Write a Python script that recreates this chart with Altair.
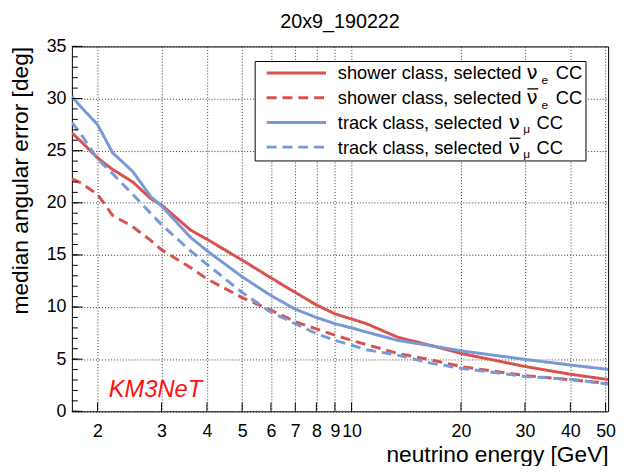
import altair as alt
import pandas as pd

# ---- data ----
energy = [1.7, 1.8, 2.0, 2.2, 2.5, 2.8, 3.0, 3.6, 4.0, 5.0, 6.0, 7.0, 8.0, 9.0, 10.0, 11.0,
          13.4, 16.6, 20.0, 30.0, 40.0, 50.8]
shower_nue = [26.7, 25.9, 24.3, 23.2, 22.0, 20.4, 19.8, 17.4, 16.5, 14.5, 12.8, 11.4, 10.2, 9.35,
              8.85, 8.4, 7.1, 6.3, 5.55, 4.3, 3.55, 3.05]
shower_anue = [22.3, 21.9, 20.8, 18.8, 17.7, 16.4, 15.5, 13.8, 12.7, 10.9, 9.7, 8.6, 7.9, 7.3,
               6.8, 6.4, 5.55, 4.92, 4.29, 3.43, 3.02, 2.68]
track_numu = [30.2, 29.2, 27.5, 24.8, 23.0, 20.6, 19.7, 16.7, 15.4, 12.9, 11.1, 9.8, 9.0, 8.4,
              8.0, 7.6, 6.8, 6.28, 5.8, 4.98, 4.44, 4.02]
track_anumu = [27.7, 26.6, 24.2, 22.8, 20.8, 19.0, 17.9, 15.4, 14.1, 11.4, 9.5, 8.4, 7.45, 6.81,
               6.34, 5.9, 5.39, 4.6, 4.13, 3.34, 3.08, 2.62]

series_names = ["shower_nue", "shower_anue", "track_numu", "track_anumu"]
series_values = [shower_nue, shower_anue, track_numu, track_anumu]

x_ticks = [2, 3, 4, 5, 6, 7, 8, 9, 10, 20, 30, 40, 50]
y_major = [0, 5, 10, 15, 20, 25, 30, 35]
y_minor = list(range(0, 36))

RED = "#d75350"
BLUE = "#7898d6"
FONT = "Liberation Sans"
W, H = 543, 369.5

rows = []
for name, vals in zip(series_names, series_values):
    for e, v in zip(energy, vals):
        rows.append({"energy": e, "err": v, "series": name})
df = pd.DataFrame(rows)

xscale = alt.Scale(type="log", domain=[1.7, 50.8], nice=False)
yscale = alt.Scale(domain=[0, 35], nice=False, zero=False)

xaxis = alt.Axis(
    values=x_ticks, labelExpr="datum.value", ticks=False, domain=False,
    labelFontSize=18, labelFont=FONT, labelColor="black", labelPadding=12,
    labelOverlap=False, labelFlush=False,
    grid=True, gridDash=[1, 2], gridColor="#333", gridWidth=1,
    title="neutrino energy [GeV]", titleFontSize=23, titleFont=FONT, titleFontWeight="normal",
    titleColor="black", titleAnchor="end", titleAlign="right", titleX=W, titleY=50.5,
    titleBaseline="alphabetic",
)
yaxis = alt.Axis(
    values=y_major, ticks=False, domain=False,
    labelFontSize=18, labelFont=FONT, labelColor="black", labelPadding=6,
    grid=True, gridDash=[1, 2], gridColor="#333", gridWidth=1,
    title="median angular error [deg]", titleFontSize=23, titleFont=FONT, titleFontWeight="normal",
    titleColor="black", titleAngle=-90, titleAlign="right", titleAnchor="end",
    titleX=-45, titleY=0, titleBaseline="alphabetic",
)

X = alt.X("energy:Q", scale=xscale, axis=xaxis)
Y = alt.Y("err:Q", scale=yscale, axis=yaxis)

lines = alt.Chart(df).mark_line(strokeWidth=3, clip=True).encode(
    x=X, y=Y,
    color=alt.Color("series:N", scale=alt.Scale(domain=series_names, range=[RED, RED, BLUE, BLUE]), legend=None),
    strokeDash=alt.StrokeDash("series:N", scale=alt.Scale(domain=series_names,
                              range=[[1, 0], [10, 6], [1, 0], [10, 6]]), legend=None),
)

ymaj_ticks = alt.Chart(pd.DataFrame({"err": y_major})).mark_rule(color="black", strokeWidth=1).encode(
    y=Y, x=alt.value(0), x2=alt.value(11))
ymin_ticks = alt.Chart(pd.DataFrame({"err": y_minor})).mark_rule(color="black", strokeWidth=1).encode(
    y=Y, x=alt.value(0), x2=alt.value(6))
x_tick_marks = alt.Chart(pd.DataFrame({"energy": x_ticks})).mark_rule(color="black", strokeWidth=1).encode(
    x=X, y=alt.value(H), y2=alt.value(H - 9))

one = pd.DataFrame({"a": [0]})

title_txt = alt.Chart(one).mark_text(text="20x9_190222", font=FONT, fontSize=20, color="black",
                                     align="center", baseline="alphabetic").encode(
    x=alt.value(W / 2), y=alt.value(-19))

km3 = alt.Chart(one).mark_text(text="KM3NeT", font=FONT, fontSize=24, fontStyle="italic",
                               color="#ff1010", align="left", baseline="alphabetic").encode(
    x=alt.value(37.3), y=alt.value(355.3))

# ---- legend (drawn by hand to allow sub-scripts) ----
leg_layers = [
    alt.Chart(one).mark_rect(fill="white", stroke="black", strokeWidth=1).encode(
        x=alt.value(185.6), x2=alt.value(520.6), y=alt.value(15.3), y2=alt.value(116))
]
leg_rows = [
    ("shower class, selected", False, "e", RED, [1, 0], 460.3, 475.5, 490.0),
    ("shower class, selected", True, "e", RED, [10, 6], 460.3, 475.5, 490.0),
    ("track class, selected", False, "μ", BLUE, [1, 0], 442.3, 457.0, 470.5),
    ("track class, selected", True, "μ", BLUE, [10, 6], 442.3, 457.0, 470.5),
]
for i, (txt, bar, sub, col, dash, xnu, xsub, xcc) in enumerate(leg_rows):
    yc = 27 + 25 * i
    leg_layers.append(alt.Chart(one).mark_rule(color=col, strokeWidth=3, strokeDash=dash).encode(
        x=alt.value(197.3), x2=alt.value(257.3), y=alt.value(yc)))
    leg_layers.append(alt.Chart(one).mark_text(text=txt, font=FONT, fontSize=18.5, align="left",
                                               baseline="alphabetic", color="black").encode(
        x=alt.value(269.3), y=alt.value(yc + 6.5)))
    leg_layers.append(alt.Chart(one).mark_text(text="ν", font="DejaVu Sans", fontSize=20, align="left",
                                               baseline="alphabetic", color="black").encode(
        x=alt.value(xnu), y=alt.value(yc + 6.5)))
    if bar:
        leg_layers.append(alt.Chart(one).mark_rule(color="black", strokeWidth=1.3).encode(
            x=alt.value(xnu + 1), x2=alt.value(xnu + 12), y=alt.value(yc - 9)))
    leg_layers.append(alt.Chart(one).mark_text(text=sub, font=FONT, fontSize=12, align="left",
                                               baseline="alphabetic", color="black").encode(
        x=alt.value(xsub), y=alt.value(yc + 11)))
    leg_layers.append(alt.Chart(one).mark_text(text="CC", font=FONT, fontSize=18.5, align="left",
                                               baseline="alphabetic", color="black").encode(
        x=alt.value(xcc), y=alt.value(yc + 6.5)))

chart = alt.layer(lines, ymin_ticks, ymaj_ticks, x_tick_marks, title_txt, km3, *leg_layers).properties(
    width=W, height=H,
    padding={"left": 64.7, "top": 36, "right": 8, "bottom": 52.5},
    autosize=alt.AutoSizeParams(type="none"),
).configure(background="white").configure_view(stroke="black", strokeWidth=1)

chart.save("out.html", embed_options={"renderer": "svg", "actions": False})
